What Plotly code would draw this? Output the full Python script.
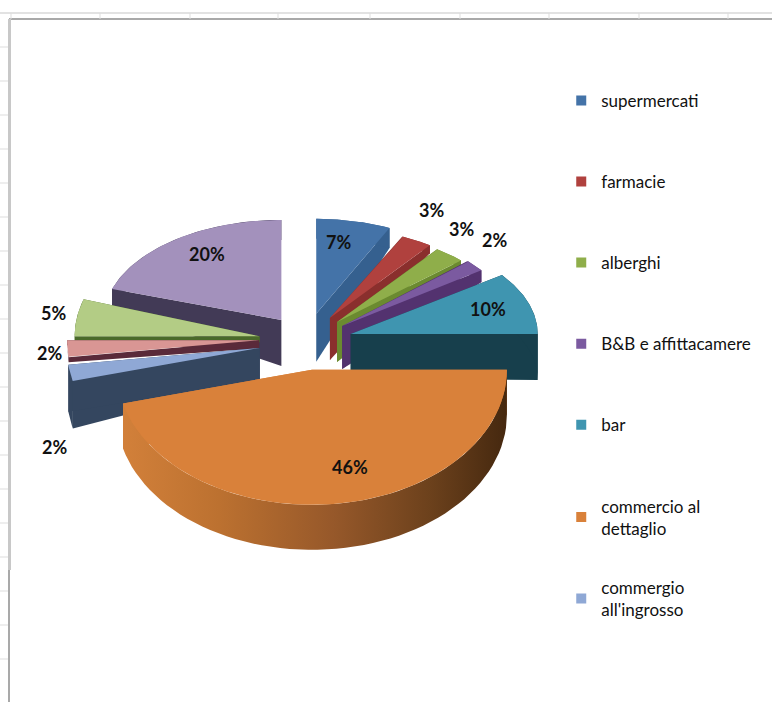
import math
import plotly.graph_objects as go

# ---- data ----
categories = ["supermercati", "farmacie", "alberghi", "B&B e affittacamere", "bar",
              "commercio al<br>dettaglio", "commergio<br>all'ingrosso", "", "", ""]
values = [7, 3, 3, 2, 10, 46, 2, 2, 5, 20]

# ---- styles ----
top_colors = ["#4473A8", "#B0413E", "#8FAE4A", "#7B5AA0", "#3F95B0",
              "#D9813A", "#8FA8D5", "#D99694", "#B3CC85", "#A391BC"]
side_colors = ["#35608F", "#8A2F2D", "#6B8A30", "#53326F", "#173F4C",
               "#D9813A", "#34465F", "#5A2A3A", "#4A6A2A", "#423A56"]
depth_apex = [48, 42, 40, 43, 45, 45, 32, 8, 6, 46]
depth_rim = [20, 8, 8, 12, 46, 45, 47, 5, 5, 20]
radius_x = [172, 170, 170, 172, 187, 195, 193, 192, 185, 178]
radius_y = [95, 90, 90, 95, 100, 135, 135, 135, 120, 100]
nudge_x = [0, 0, 0, 0, 0, 0, 0, 0, 0, 3]
nudge_y = [0, 0, 0, 0, -4, 0, -5, -10, -7, 0]
draw_order = [9, 8, 7, 6, 0, 1, 2, 3, 4, 5]
label_xy = [(338, 242), (431, 210), (461, 229), (494, 240), (488, 309),
            (350, 467), (54, 447), (49, 353), (53, 313), (207, 254)]
CENTER = (306, 349)
PULL_X, PULL_BACK, PULL_FRONT = 47, 36, 21
FONT = "Lato"

total = sum(values)
edges = [0]
for v in values:
    edges.append(edges[-1] + v / total * 360)


def rim(ang, rx, ry):
    t = math.radians(ang)
    return rx * math.sin(t), -ry * math.cos(t)


def arc(a0, a1, n=60):
    return [a0 + (a1 - a0) * i / n for i in range(n + 1)]


fig = go.Figure()


def poly(xs, ys, color=None, **kw):
    fig.add_trace(go.Scatter(x=xs, y=ys, mode="lines", fill="toself", fillcolor=color,
                             line=dict(width=0), showlegend=False, hoverinfo="skip", **kw))


for i in draw_order:
    a0, a1 = edges[i], edges[i + 1]
    mid = math.radians((a0 + a1) / 2)
    ax = CENTER[0] + PULL_X * math.sin(mid) + nudge_x[i]
    ay = CENTER[1] - (PULL_FRONT if math.cos(mid) < 0 else PULL_BACK) * math.cos(mid) + nudge_y[i]
    dA, dR, rx, ry = depth_apex[i], depth_rim[i], radius_x[i], radius_y[i]
    for a in (a0, a1):
        dx, dy = rim(a, rx, ry)
        poly([ax, ax + dx, ax + dx, ax], [ay, ay + dy, ay + dy + dR, ay + dA], side_colors[i])
    pts = [rim(a, rx, ry) for a in arc(a0, a1)]
    wx = [ax + p[0] for p in pts]
    wy = [ay + p[1] for p in pts]
    if values[i] == max(values):
        poly(wx + wx[::-1], wy + [y + dR for y in wy[::-1]], None,
             fillgradient=dict(type="horizontal",
                               colorscale=[[0, "#D2803A"], [0.25, "#BC7130"], [0.55, "#96582A"],
                                           [0.8, "#6C411C"], [1, "#45280F"]]))
    else:
        poly(wx + wx[::-1], wy + [y + dR for y in wy[::-1]], side_colors[i])
    poly([ax] + wx + [ax], [ay] + wy + [ay], top_colors[i])

# legend entries
for i, name in enumerate(categories):
    if not name:
        continue
    fig.add_trace(go.Scatter(x=[None], y=[None], mode="markers", name=name,
                             marker=dict(symbol="square", size=10, color=top_colors[i]),
                             legendgroup=name,
                             legend="legend2" if i == 6 else "legend"))

annotations = [dict(x=x, y=y, xref="x", yref="y", text=f"<b>{v}%</b>", showarrow=False,
                    font=dict(family=FONT, size=18, color="#111111"))
               for (x, y), v in zip(label_xy, values)]

# spreadsheet backdrop and chart frame
shapes = [dict(type="line", x0=0, x1=772, y0=13, y1=13, line=dict(color="#E2E2E2", width=2)),
          dict(type="line", x0=9, x1=772, y0=19, y1=19, line=dict(color="#8C8C8C", width=1.5)),
          dict(type="line", x0=9.5, x1=9.5, y0=19, y1=570, line=dict(color="#C8C8C8", width=3)),
          dict(type="line", x0=9, x1=9, y0=570, y1=702, line=dict(color="#8C8C8C", width=1.5))]
for gx in [11, 100, 190, 278, 370, 460, 549, 639, 728]:
    shapes.append(dict(type="line", x0=gx, x1=gx, y0=13, y1=19, line=dict(color="#DDDDDD", width=1)))
for k in range(19):
    gy = 47 + 34 * k
    shapes.append(dict(type="line", x0=0, x1=8, y0=gy, y1=gy, line=dict(color="#DDDDDD", width=1)))

legend_style = dict(font=dict(family=FONT, size=17, color="#111111"), bgcolor="rgba(0,0,0,0)",
                    xanchor="left", yanchor="top", itemsizing="trace", itemclick=False,
                    itemdoubleclick=False)
fig.update_layout(
    width=772, height=702, margin=dict(l=0, r=0, t=0, b=0), paper_bgcolor="white", plot_bgcolor="white",
    xaxis=dict(range=[0, 772], visible=False, fixedrange=True),
    yaxis=dict(range=[702, 0], visible=False, fixedrange=True),
    legend=dict(x=0.727, y=0.882, tracegroupgap=56, **legend_style),
    legend2=dict(x=0.727, y=0.188, **legend_style),
    annotations=annotations, shapes=shapes, showlegend=True,
)
fig.write_html("out.html", post_script="document.body.style.margin='0';",
               config=dict(displayModeBar=False))
